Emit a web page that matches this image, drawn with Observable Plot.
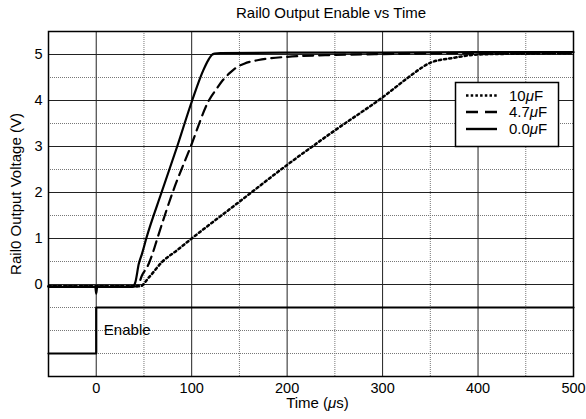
<!DOCTYPE html>
<html>
<head>
<meta charset="utf-8">
<script src="https://cdn.jsdelivr.net/npm/d3@7"></script>
<script src="https://cdn.jsdelivr.net/npm/@observablehq/plot@0.6"></script>
<style>
  html, body { margin: 0; padding: 0; background: #fff; }
  #chart { width: 586px; height: 419px; }
</style>
</head>
<body>
<div id="chart"></div>
<script>
// ---- data ----
const title = "Rail0 Output Enable vs Time";
const xLabel = "Time (μs)";
const yLabel = "Rail0 Output Voltage (V)";

// 0.0 µF (solid)
const timeC0 = [-50, -1, 0, 1, 38, 41, 44.6, 48, 52.4, 68.4, 84.8, 100.5, 112, 118, 121, 124, 130, 200, 300, 400, 500];
const voltC0 = [-0.05, -0.05, -0.2, -0.05, -0.05, 0.05, 0.45, 0.67, 1.0, 2.0, 3.0, 4.0, 4.65, 4.9, 4.99, 5.02, 5.03, 5.04, 5.04, 5.05, 5.05];

// 4.7 µF (dashed)
const timeC47 = [-50, 43, 48, 55, 59, 64, 80, 99, 118, 126, 133, 140, 147, 155, 170, 200, 250, 300, 400, 500];
const voltC47 = [-0.04, -0.04, 0.2, 0.45, 0.67, 1.0, 2.0, 3.0, 4.0, 4.25, 4.45, 4.6, 4.72, 4.8, 4.88, 4.95, 4.99, 5.01, 5.03, 5.03];

// 10 µF (dotted)
const timeC10 = [-50, 46, 55, 69, 85, 100, 150, 200, 250, 300, 330, 340, 350, 375, 400, 450, 500];
const voltC10 = [-0.04, -0.04, 0.15, 0.49, 0.75, 1.0, 1.8, 2.6, 3.35, 4.07, 4.55, 4.7, 4.82, 4.93, 5.0, 5.02, 5.03];

// Enable signal
const enableTime = [-50, 0, 0, 500];
const enableVolt = [-1.5, -1.5, -0.5, -0.5];
const enableLabel = "Enable";

// legend
const legendLabels = ["10μF", "4.7μF", "0.0μF"];

// ticks / grid
const xMajor = [0, 100, 200, 300, 400, 500];
const xMinor = [50, 150, 250, 350, 450];
const yMajor = [0, 1, 2, 3, 4, 5];
const yMinor = [-1.5, -1, -0.5, 0.5, 1.5, 2.5, 3.5, 4.5];

// ---- build tables ----
const toRows = (ts, vs) => ts.map((t, i) => ({t, v: vs[i]}));
const c0 = toRows(timeC0, voltC0);
const c47 = toRows(timeC47, voltC47);
const c10 = toRows(timeC10, voltC10);
const enable = toRows(enableTime, enableVolt);

const FONT = "'Liberation Sans', Arial, Helvetica, sans-serif";
const DOT = "2.2,3";
const DASH = "10,6";

const plot = Plot.plot({
  width: 586,
  height: 419,
  marginTop: 31,
  marginRight: 13,
  marginBottom: 43,
  marginLeft: 48,
  style: {fontFamily: FONT, fontSize: "15px", background: "#fff", color: "#000"},
  x: {domain: [-50, 500], label: null},
  y: {domain: [-2, 5.5], label: null},
  marks: [
    Plot.gridX(xMinor, {stroke: "#777", strokeOpacity: 1, strokeWidth: 1, strokeDasharray: "1,1"}),
    Plot.gridY(yMinor, {stroke: "#777", strokeOpacity: 1, strokeWidth: 1, strokeDasharray: "1,1"}),
    Plot.gridX(xMajor, {stroke: "#222", strokeOpacity: 1, strokeWidth: 1}),
    Plot.gridY(yMajor, {stroke: "#222", strokeOpacity: 1, strokeWidth: 1}),
    Plot.axisX(xMajor, {tickSize: 0, tickPadding: 6, fontSize: 14.5, label: null}),
    Plot.axisY(yMajor, {tickSize: 0, tickPadding: 6, fontSize: 14.5, label: null}),
    Plot.line(enable, {x: "t", y: "v", stroke: "#000", strokeWidth: 2.2}),
    Plot.line(c10, {x: "t", y: "v", curve: "monotone-x", stroke: "#000", strokeWidth: 2.5, strokeDasharray: DOT}),
    Plot.line(c47, {x: "t", y: "v", curve: "monotone-x", stroke: "#000", strokeWidth: 2.2, strokeDasharray: DASH}),
    Plot.line(c0, {x: "t", y: "v", curve: "monotone-x", stroke: "#000", strokeWidth: 2.2}),
    Plot.text([enableLabel], {x: 8, y: -1, text: d => d, textAnchor: "start", lineAnchor: "middle", fontSize: 15, fill: "#000"}),
    Plot.frame({stroke: "#000", strokeWidth: 1.5}),
    Plot.text([title], {frameAnchor: "top", textAnchor: "middle", lineAnchor: "middle", dx: 20, dy: -18.5, text: d => d, fontSize: 15, fill: "#000"}),
    Plot.text([xLabel], {frameAnchor: "bottom", textAnchor: "middle", lineAnchor: "middle", dx: 6.5, dy: 27, text: d => d, fontSize: 15, fill: "#000"}),
    Plot.text([yLabel], {frameAnchor: "left", textAnchor: "middle", lineAnchor: "middle", rotate: -90, dx: -32, dy: -10, text: d => d, fontSize: 15, fill: "#000"})
  ]
});

document.getElementById("chart").appendChild(plot);

// ---- legend (drawn into the same SVG) ----
const svg = d3.select(plot);
const lg = svg.append("g").attr("font-family", FONT).attr("font-size", 15).attr("text-anchor", "start");
lg.append("rect").attr("x", 455.5).attr("y", 82.5).attr("width", 103).attr("height", 64)
  .attr("fill", "#fff").attr("stroke", "#000").attr("stroke-width", 1.5);
const dashes = ["2.5,2.2", "12,7", null];
const rowY = [95.5, 112, 129];
legendLabels.forEach((lab, i) => {
  const ln = lg.append("line").attr("x1", 466).attr("x2", 497).attr("y1", rowY[i]).attr("y2", rowY[i])
    .attr("stroke", "#000").attr("stroke-width", 2.4);
  if (dashes[i]) ln.attr("stroke-dasharray", dashes[i]);
  lg.append("text").attr("x", 509).attr("y", rowY[i]).attr("dy", "0.35em")
    .attr("text-anchor", "start").attr("fill", "#000").text(lab);
});

// italicise μ in every text
svg.selectAll("text").each(function() {
  const el = d3.select(this);
  if (this.querySelector("tspan")) return;
  const s = this.textContent;
  if (!s.includes("μ")) return;
  el.text(null);
  s.split(/(μ)/).forEach(part => {
    if (!part) return;
    const ts = el.append("tspan").text(part);
    if (part === "μ") ts.attr("font-style", "italic");
  });
});
</script>
</body>
</html>
